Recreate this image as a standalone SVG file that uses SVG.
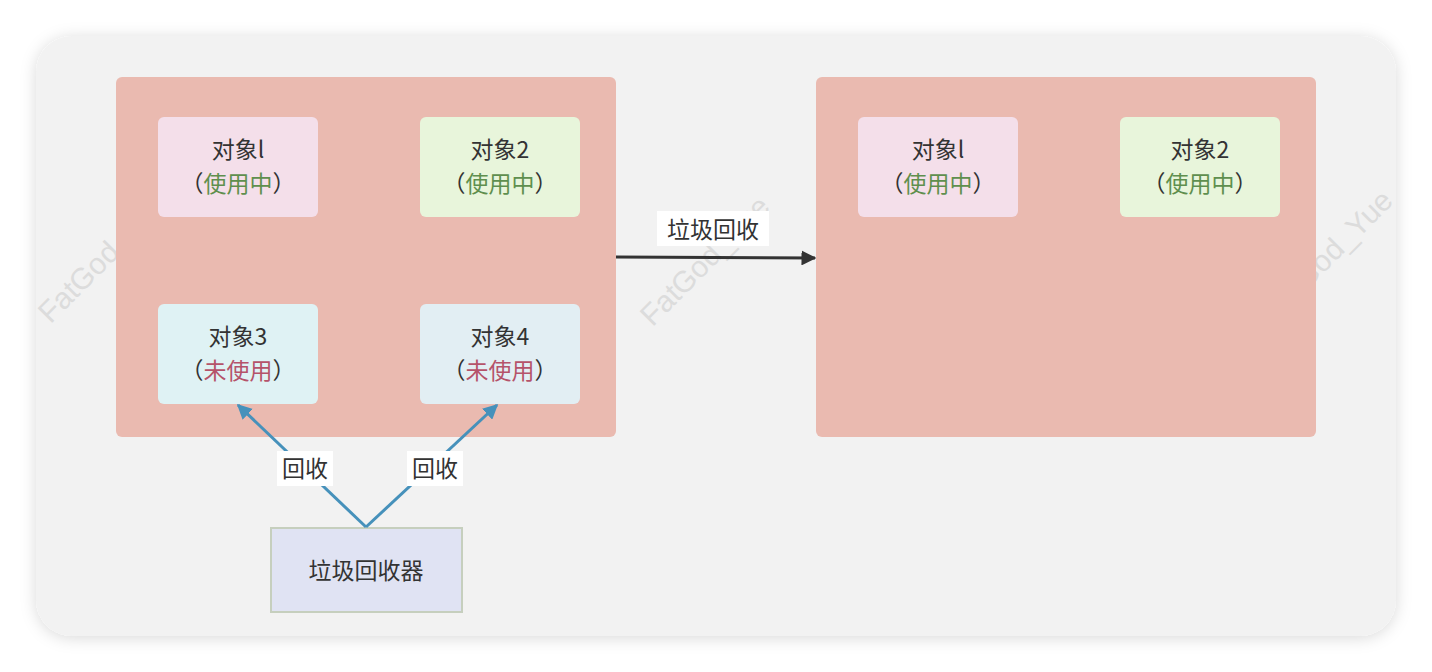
<svg xmlns="http://www.w3.org/2000/svg" width="1432" height="672" viewBox="0 0 1432 672">
<defs>
<style>
.t{font-family:"Noto Sans CJK SC","Liberation Sans",sans-serif;font-size:23px;fill:#333;text-anchor:middle}
.g{fill:#5f8f4e}.r{fill:#b5536a}
.wm{font-family:"Liberation Sans",sans-serif;font-size:30px;fill:#dcdcdc;text-anchor:middle}
.lb{font-family:"Noto Sans CJK SC","Liberation Sans",sans-serif;font-size:23px;fill:#333;text-anchor:middle}
</style>
<marker id="ab" viewBox="0 0 10 10" refX="9" refY="5" markerWidth="5" markerHeight="5" orient="auto"><path d="M0,0L10,5L0,10z" fill="#4691bb"/></marker>
<marker id="ak" viewBox="0 0 10 10" refX="9" refY="5" markerWidth="5" markerHeight="5" orient="auto"><path d="M0,0L10,5L0,10z" fill="#333"/></marker>
<filter id="sh" x="-5%" y="-5%" width="110%" height="115%"><feDropShadow dx="0" dy="2" stdDeviation="8" flood-color="#000" flood-opacity="0.15"/></filter>
</defs>
<rect width="1432" height="672" fill="#fff"/>
<rect x="36" y="36" width="1360" height="600" rx="36" fill="#f2f2f2" filter="url(#sh)"/>
<text class="wm" transform="translate(110,265) rotate(-45)">FatGod_Yue</text>
<text class="wm" transform="translate(712,268) rotate(-45)">FatGod_Yue</text>
<text class="wm" transform="translate(1335,262) rotate(-45)">FatGod_Yue</text>
<g id="heapA"><rect x="116" y="77" width="500" height="360" rx="6" fill="#eabab0"/></g>
<g id="heapB"><rect x="816" y="77" width="500" height="360" rx="6" fill="#eabab0"/></g>
<g id="a1"><rect x="158" y="117" width="160" height="100" rx="6" fill="#f4dfea"/><text class="t" x="238" y="158">对象l</text><text class="t" x="238" y="192">（<tspan class="g">使用中</tspan>）</text></g>
<g id="a2"><rect x="420" y="117" width="160" height="100" rx="6" fill="#e8f5db"/><text class="t" x="500" y="158">对象2</text><text class="t" x="500" y="192">（<tspan class="g">使用中</tspan>）</text></g>
<g id="a3"><rect x="158" y="304" width="160" height="100" rx="6" fill="#dff2f4"/><text class="t" x="238" y="345">对象3</text><text class="t" x="238" y="379">（<tspan class="r">未使用</tspan>）</text></g>
<g id="a4"><rect x="420" y="304" width="160" height="100" rx="6" fill="#e2eef3"/><text class="t" x="500" y="345">对象4</text><text class="t" x="500" y="379">（<tspan class="r">未使用</tspan>）</text></g>
<g id="b1"><rect x="858" y="117" width="160" height="100" rx="6" fill="#f4dfea"/><text class="t" x="938" y="158">对象l</text><text class="t" x="938" y="192">（<tspan class="g">使用中</tspan>）</text></g>
<g id="b2"><rect x="1120" y="117" width="160" height="100" rx="6" fill="#e8f5db"/><text class="t" x="1200" y="158">对象2</text><text class="t" x="1200" y="192">（<tspan class="g">使用中</tspan>）</text></g>
<g id="gc"><rect x="271" y="528" width="191" height="84" fill="#e0e3f3" stroke="#c6cfbe" stroke-width="2"/><text class="t" x="366" y="579">垃圾回收器</text></g>
<g id="edges" fill="none">
<path d="M366,527L238,405" stroke="#4691bb" stroke-width="3" marker-end="url(#ab)"/>
<path d="M366,527L497,405" stroke="#4691bb" stroke-width="3" marker-end="url(#ab)"/>
<path d="M616,257L815,258" stroke="#333" stroke-width="3" marker-end="url(#ak)"/>
<rect x="277" y="451" width="56" height="35" fill="#fff"/><text class="lb" x="305" y="477">回收</text>
<rect x="407" y="451" width="56" height="35" fill="#fff"/><text class="lb" x="435" y="477">回收</text>
<rect x="657" y="211" width="112" height="35" fill="#fff"/><text class="lb" x="713" y="238">垃圾回收</text>
</g>
</svg>
